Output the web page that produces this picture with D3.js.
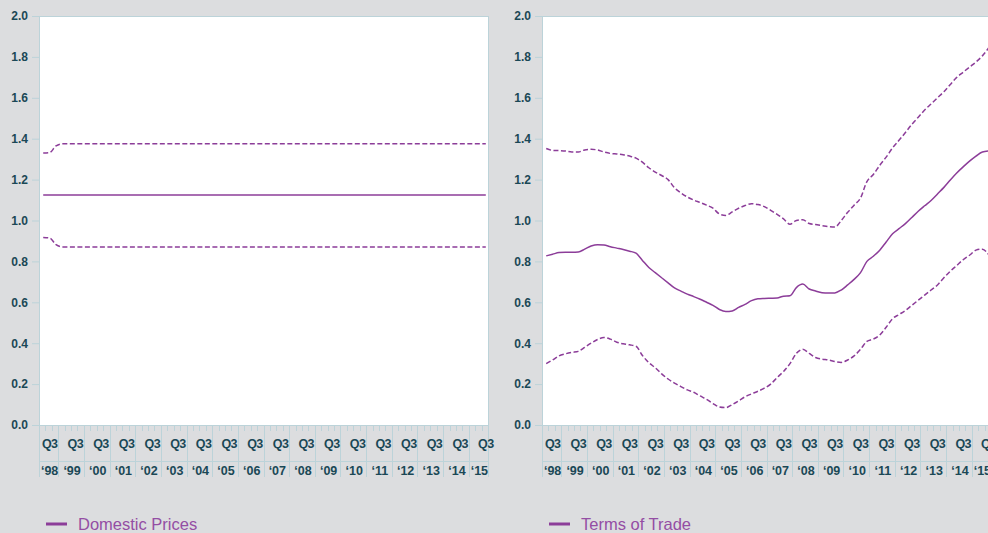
<!DOCTYPE html>
<html>
<head>
<meta charset="utf-8">
<script src="https://cdn.jsdelivr.net/npm/d3@7/dist/d3.min.js"></script>
<style>
  html, body { margin: 0; padding: 0; background: #dcdddf; }
  svg { display: block; font-family: "Liberation Sans", Arial, sans-serif; }
</style>
</head>
<body>
<svg id="chart" width="988" height="533"></svg>
<script>
// tick labels
var years = ["1998", "1999", "2000", "2001", "2002", "2003", "2004", "2005", "2006",
  "2007", "2008", "2009", "2010", "2011", "2012", "2013", "2014", "2015"];
var yearLabels = ["\u201898", "\u201899", "\u201800", "\u201801", "\u201802", "\u201803", "\u201804", "\u201805", "\u201806",
  "\u201807", "\u201808", "\u201809", "\u201810", "\u201811", "\u201812", "\u201813", "\u201814", "\u201815"];
var yTicks = [0, 0.2, 0.4, 0.6, 0.8, 1.0, 1.2, 1.4, 1.6, 1.8, 2.0];
var firstQ = 2, lastQ = 3; // 1998 Q2 .. 2015 Q3

// Domestic Prices (left)
var domestic_mid = [
  1.125, 1.125, 1.125, 1.125, 1.125, 1.125, 1.125, 1.125, 1.125, 1.125,
  1.125, 1.125, 1.125, 1.125, 1.125, 1.125, 1.125, 1.125, 1.125, 1.125,
  1.125, 1.125, 1.125, 1.125, 1.125, 1.125, 1.125, 1.125, 1.125, 1.125,
  1.125, 1.125, 1.125, 1.125, 1.125, 1.125, 1.125, 1.125, 1.125, 1.125,
  1.125, 1.125, 1.125, 1.125, 1.125, 1.125, 1.125, 1.125, 1.125, 1.125,
  1.125, 1.125, 1.125, 1.125, 1.125, 1.125, 1.125, 1.125, 1.125, 1.125,
  1.125, 1.125, 1.125, 1.125, 1.125, 1.125, 1.125, 1.125, 1.125, 1.125];
var domestic_hi = [
  1.330, 1.332, 1.365, 1.375, 1.375, 1.375, 1.375, 1.375, 1.375, 1.375,
  1.375, 1.375, 1.375, 1.375, 1.375, 1.375, 1.375, 1.375, 1.375, 1.375,
  1.375, 1.375, 1.375, 1.375, 1.375, 1.375, 1.375, 1.375, 1.375, 1.375,
  1.375, 1.375, 1.375, 1.375, 1.375, 1.375, 1.375, 1.375, 1.375, 1.375,
  1.375, 1.375, 1.375, 1.375, 1.375, 1.375, 1.375, 1.375, 1.375, 1.375,
  1.375, 1.375, 1.375, 1.375, 1.375, 1.375, 1.375, 1.375, 1.375, 1.375,
  1.375, 1.375, 1.375, 1.375, 1.375, 1.375, 1.375, 1.375, 1.375, 1.375];
var domestic_lo = [
  0.917, 0.914, 0.882, 0.871, 0.871, 0.871, 0.871, 0.871, 0.871, 0.871,
  0.871, 0.871, 0.871, 0.871, 0.871, 0.871, 0.871, 0.871, 0.871, 0.871,
  0.871, 0.871, 0.871, 0.871, 0.871, 0.871, 0.871, 0.871, 0.871, 0.871,
  0.871, 0.871, 0.871, 0.871, 0.871, 0.871, 0.871, 0.871, 0.871, 0.871,
  0.871, 0.871, 0.871, 0.871, 0.871, 0.871, 0.871, 0.871, 0.871, 0.871,
  0.871, 0.871, 0.871, 0.871, 0.871, 0.871, 0.871, 0.871, 0.871, 0.871,
  0.871, 0.871, 0.871, 0.871, 0.871, 0.871, 0.871, 0.871, 0.871, 0.871];

// Terms of Trade (right)
var tot_mid = [
  0.827, 0.835, 0.843, 0.845, 0.845, 0.846, 0.860, 0.875, 0.882, 0.880,
  0.872, 0.865, 0.858, 0.850, 0.840, 0.805, 0.770, 0.745, 0.720, 0.695,
  0.670, 0.655, 0.640, 0.628, 0.615, 0.600, 0.585, 0.565, 0.555, 0.558,
  0.575, 0.590, 0.608, 0.617, 0.619, 0.620, 0.621, 0.630, 0.632, 0.672,
  0.689, 0.665, 0.655, 0.647, 0.645, 0.646, 0.660, 0.685, 0.712, 0.745,
  0.800, 0.825, 0.855, 0.895, 0.935, 0.960, 0.985, 1.015, 1.045, 1.072,
  1.098, 1.130, 1.162, 1.198, 1.232, 1.262, 1.290, 1.315, 1.335, 1.340];
var tot_hi = [
  1.352, 1.343, 1.342, 1.340, 1.335, 1.335, 1.345, 1.348, 1.345, 1.335,
  1.328, 1.325, 1.322, 1.315, 1.305, 1.285, 1.258, 1.237, 1.220, 1.200,
  1.160, 1.135, 1.115, 1.100, 1.088, 1.075, 1.060, 1.032, 1.025, 1.042,
  1.060, 1.073, 1.082, 1.078, 1.068, 1.050, 1.030, 1.008, 0.982, 1.000,
  1.004, 0.985, 0.980, 0.975, 0.970, 0.968, 1.000, 1.040, 1.075, 1.110,
  1.190, 1.225, 1.270, 1.310, 1.355, 1.392, 1.430, 1.470, 1.505, 1.540,
  1.570, 1.600, 1.630, 1.665, 1.700, 1.725, 1.750, 1.775, 1.805, 1.845];
var tot_lo = [
  0.300, 0.318, 0.338, 0.348, 0.355, 0.360, 0.380, 0.400, 0.418, 0.428,
  0.420, 0.405, 0.397, 0.392, 0.385, 0.340, 0.305, 0.280, 0.250, 0.225,
  0.205, 0.188, 0.172, 0.160, 0.142, 0.125, 0.105, 0.088, 0.085, 0.100,
  0.118, 0.138, 0.152, 0.165, 0.180, 0.200, 0.232, 0.262, 0.300, 0.350,
  0.370, 0.350, 0.330, 0.322, 0.318, 0.310, 0.306, 0.318, 0.338, 0.370,
  0.409, 0.420, 0.440, 0.478, 0.520, 0.540, 0.560, 0.585, 0.610, 0.635,
  0.660, 0.685, 0.720, 0.752, 0.780, 0.808, 0.830, 0.855, 0.860, 0.832];

var purple = "#8c3d99";
var grid = "#bcd3d9";
var ink = "#1a4856";

var svg = d3.select("#chart");

// quarter categories
var quarters = [];
years.forEach(function(yr, k) {
  for (var q = 1; q <= 4; q++) {
    if (k == 0 && q < firstQ) continue;
    if (k == years.length - 1 && q > lastQ) continue;
    quarters.push(yr + "Q" + q);
  }
});

var plotTop = 16, plotBottom = 425, panelW = 449;

var y = d3.scaleLinear().domain([0, 2]).range([plotBottom, plotTop]);

drawPanel(40, [domestic_hi, domestic_mid, domestic_lo], "Domestic Prices");
drawPanel(543, [tot_hi, tot_mid, tot_lo], "Terms of Trade");

function drawPanel(x0, series, label) {
  var g = svg.append("g");

  var x = d3.scaleBand().domain(quarters).range([x0, x0 + panelW]).padding(0);
  var bw = x.bandwidth();

  // plot area
  g.append("rect")
    .attr("x", x0).attr("y", plotTop)
    .attr("width", panelW).attr("height", plotBottom - plotTop)
    .attr("fill", "#fff");
  g.append("line").attr("x1", x0).attr("x2", x0 + panelW).attr("y1", plotTop + 0.5).attr("y2", plotTop + 0.5)
    .attr("stroke", grid);
  g.append("line").attr("x1", x0 + panelW - 0.5).attr("x2", x0 + panelW - 0.5).attr("y1", plotTop).attr("y2", 477)
    .attr("stroke", grid);
  g.append("line").attr("x1", x0 - 0.5).attr("x2", x0 - 0.5).attr("y1", plotTop).attr("y2", 477)
    .attr("stroke", grid);

  // y axis
  var ya = g.append("g")
    .attr("transform", "translate(" + x0 + ",0)")
    .call(d3.axisLeft(y).tickValues(yTicks).tickSize(8).tickPadding(4).tickFormat(d3.format(".1f")));
  ya.select(".domain").remove();
  ya.selectAll(".tick line").attr("stroke", grid);
  ya.selectAll(".tick text")
    .attr("fill", ink).style("font-size", "12px").style("font-weight", "bold");

  // x band lines
  g.append("line").attr("x1", x0).attr("x2", x0 + panelW).attr("y1", plotBottom + 0.5).attr("y2", plotBottom + 0.5)
    .attr("stroke", grid);
  g.append("line").attr("x1", x0).attr("x2", x0 + panelW).attr("y1", 461.5).attr("y2", 461.5)
    .attr("stroke", grid);

  quarters.forEach(function(q, i) {
    if (i == 0) return;
    var xx = Math.round(x(q)) - 0.5;
    var isYear = q.slice(-1) == "1";
    g.append("line")
      .attr("x1", xx).attr("x2", xx)
      .attr("y1", plotBottom).attr("y2", isYear ? 477 : 431)
      .attr("stroke", grid);
  });

  // Q3 labels
  var q3 = quarters.filter(function(q) { return q.slice(-2) == "Q3"; });
  var xa = g.append("g")
    .attr("transform", "translate(0," + plotBottom + ")")
    .call(d3.axisBottom(x).tickValues(q3).tickSize(0).tickPadding(14).tickFormat(function() { return "Q3"; }));
  xa.select(".domain").remove();
  xa.selectAll(".tick text")
    .attr("fill", ink).style("font-size", "12.5px").style("font-weight", "bold")
    .style("letter-spacing", "-0.6px");

  // year labels
  years.forEach(function(yr, k) {
    var qs = quarters.filter(function(q) { return q.slice(0, 4) == yr; });
    var a = x(qs[0]), b = x(qs[qs.length - 1]) + bw;
    g.append("text")
      .attr("x", (a + b) / 2).attr("y", 475)
      .attr("text-anchor", "middle")
      .attr("fill", ink).style("font-size", "12.5px").style("font-weight", "bold")
      .text(yearLabels[k]);
  });

  // lines
  var line = d3.line()
    .x(function(d, i) { return x(quarters[i]) + bw / 2; })
    .y(function(d) { return y(d); })
    .curve(d3.curveMonotoneX);

  series.forEach(function(s, i) {
    g.append("path")
      .datum(s)
      .attr("d", line)
      .attr("fill", "none")
      .attr("stroke", purple)
      .attr("stroke-width", 1.5)
      .attr("stroke-dasharray", i == 1 ? null : "5,2.5");
  });

  // legend
  g.append("line")
    .attr("x1", x0 + 6).attr("x2", x0 + 27).attr("y1", 524).attr("y2", 524)
    .attr("stroke", purple).attr("stroke-width", 3);
  g.append("text")
    .attr("x", x0 + 38).attr("y", 529.5)
    .attr("fill", "#944ea4").style("font-size", "16.5px")
    .text(label);
}
</script>
</body>
</html>
